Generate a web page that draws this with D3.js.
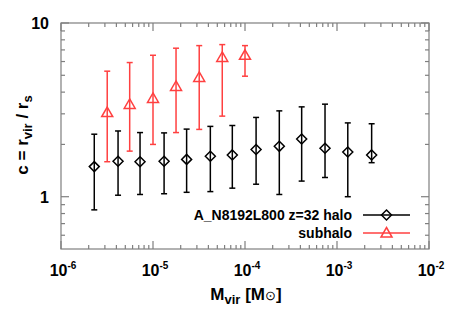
<!DOCTYPE html>
<html>
<head>
<meta charset="utf-8">
<script src="https://cdn.jsdelivr.net/npm/d3@7"></script>
<style>
  body { margin: 0; background: #fff; }
  text { font-family: "Liberation Sans", Arial, sans-serif; font-weight: bold; }
</style>
</head>
<body>
<script>
// variables:
var w = 463
var h = 324
var plotLeft = 61, plotRight = 429, plotTop = 23, plotBottom = 249

// halo data (mass, concentration, error bar low / high)
var haloMass = [2.30e-6, 4.17e-6, 7.23e-6, 1.32e-5, 2.32e-5, 4.20e-5, 7.28e-5, 1.32e-4, 2.36e-4, 4.13e-4, 7.41e-4, 1.31e-3, 2.38e-3]
var haloC = [1.49, 1.60, 1.59, 1.60, 1.64, 1.71, 1.74, 1.87, 1.95, 2.15, 1.90, 1.81, 1.74]
var haloLow = [0.84, 1.02, 1.03, 1.04, 1.06, 1.07, 1.12, 1.18, 1.03, 1.23, 1.29, 1.00, 1.57]
var haloHigh = [2.29, 2.39, 2.34, 2.33, 2.45, 2.54, 2.57, 2.86, 3.12, 3.29, 3.41, 2.66, 2.63]

// subhalo data
var subMass = [3.18e-6, 5.58e-6, 1.0e-5, 1.78e-5, 3.18e-5, 5.66e-5, 1.0e-4]
var subC = [3.05, 3.40, 3.68, 4.31, 4.86, 6.33, 6.52]
var subLow = [1.59, 1.83, 2.00, 2.34, 2.44, 2.91, 4.94]
var subHigh = [5.28, 5.92, 6.52, 7.16, 7.41, 7.51, 7.41]

var xTicks = [1e-6, 1e-5, 1e-4, 1e-3, 1e-2]
var xTickExp = ['-6', '-5', '-4', '-3', '-2']
var yTicks = [1, 10]
var yTickLabels = ['1', '10']
var legendLabels = ['A_N8192L800 z=32 halo', 'subhalo']

var red = '#ff4040'

var svg = d3.select('body')
  .append('svg')
  .attr('width', w)
  .attr('height', h)

var xScale = d3.scaleLog().domain([1e-6, 1e-2]).range([plotLeft, plotRight])
var yScale = d3.scaleLog().domain([0.5, 10]).range([plotBottom, plotTop])

// minor ticks
var xMinor = []
for (var e = -6; e < -2; e++) {
  for (var m = 2; m <= 9; m++) xMinor.push(m * Math.pow(10, e))
}
var yMinor = [0.6, 0.7, 0.8, 0.9, 2, 3, 4, 5, 6, 7, 8, 9]

var axisColor = '#7f7f7f'
var g = svg.append('g').attr('stroke', axisColor).attr('stroke-width', 1.2)

function vTick (x, len) {
  g.append('line').attr('x1', x).attr('x2', x).attr('y1', plotBottom).attr('y2', plotBottom - len)
  g.append('line').attr('x1', x).attr('x2', x).attr('y1', plotTop).attr('y2', plotTop + len)
}
function hTick (y, len) {
  g.append('line').attr('x1', plotLeft).attr('x2', plotLeft + len).attr('y1', y).attr('y2', y)
  g.append('line').attr('x1', plotRight).attr('x2', plotRight - len).attr('y1', y).attr('y2', y)
}
xMinor.forEach(function (d) { vTick(xScale(d), 4) })
xTicks.forEach(function (d) { vTick(xScale(d), 8) })
yMinor.forEach(function (d) { hTick(yScale(d), 4) })
yTicks.forEach(function (d) { hTick(yScale(d), 8) })

g.append('rect')
  .attr('x', plotLeft).attr('y', plotTop)
  .attr('width', plotRight - plotLeft).attr('height', plotBottom - plotTop)
  .attr('fill', 'none')

// tick labels
var xl = svg.selectAll('.xlab')
  .data(xTicks)
  .enter()
  .append('text')
  .attr('class', 'xlab')
  .attr('x', function (d) { return xScale(d) + 2 })
  .attr('y', 276)
  .attr('text-anchor', 'middle')
  .attr('font-size', '16px')
xl.append('tspan').text('10')
xl.append('tspan')
  .attr('dy', -7)
  .attr('font-size', '10px')
  .text(function (d, i) { return xTickExp[i] })

svg.selectAll('.ylab')
  .data(yTicks)
  .enter()
  .append('text')
  .attr('class', 'ylab')
  .attr('x', 49)
  .attr('y', function (d) { return yScale(d) + 6 })
  .attr('text-anchor', 'end')
  .attr('font-size', '16px')
  .text(function (d, i) { return yTickLabels[i] })

// axis titles
var xt = svg.append('text')
  .attr('x', 246)
  .attr('y', 300)
  .attr('text-anchor', 'middle')
  .attr('font-size', '17px')
xt.append('tspan').text('M')
xt.append('tspan').attr('dy', 4).attr('font-size', '13px').text('vir')
xt.append('tspan').attr('dy', -4).text(' [M')
xt.append('tspan').attr('font-size', '13px').attr('font-weight', 'normal').text('\u2299')
xt.append('tspan').text(']')

var yt = svg.append('text')
  .attr('transform', 'translate(28,135) rotate(-90)')
  .attr('text-anchor', 'middle')
  .attr('font-size', '17px')
yt.append('tspan').text('c = r')
yt.append('tspan').attr('dy', 4).attr('font-size', '13px').text('vir')
yt.append('tspan').attr('dy', -4).text(' / r')
yt.append('tspan').attr('dy', 4).attr('font-size', '13px').text('s')

// symbols
function diamond (sel) {
  sel.append('path')
    .attr('d', 'M0,-5L5,0L0,5L-5,0Z')
    .attr('fill', 'none')
    .attr('stroke', '#000')
    .attr('stroke-width', 1.5)
}
function triangle (sel) {
  sel.append('path')
    .attr('d', 'M0,-5.5L5.5,4L-5.5,4Z')
    .attr('fill', 'none')
    .attr('stroke', red)
    .attr('stroke-width', 1.5)
}

function drawSeries (mass, c, low, high, color, symbol) {
  var data = mass.map(function (d, i) { return { m: d, c: c[i], lo: low[i], hi: high[i] } })
  var grp = svg.append('g')
  var eb = grp.selectAll('g.eb')
    .data(data)
    .enter()
    .append('g')
    .attr('stroke', color)
    .attr('stroke-width', 1.5)
  eb.append('line')
    .attr('x1', function (d) { return xScale(d.m) })
    .attr('x2', function (d) { return xScale(d.m) })
    .attr('y1', function (d) { return yScale(d.lo) })
    .attr('y2', function (d) { return yScale(d.hi) })
  eb.append('line')
    .attr('x1', function (d) { return xScale(d.m) - 3 })
    .attr('x2', function (d) { return xScale(d.m) + 3 })
    .attr('y1', function (d) { return yScale(d.lo) })
    .attr('y2', function (d) { return yScale(d.lo) })
  eb.append('line')
    .attr('x1', function (d) { return xScale(d.m) - 3 })
    .attr('x2', function (d) { return xScale(d.m) + 3 })
    .attr('y1', function (d) { return yScale(d.hi) })
    .attr('y2', function (d) { return yScale(d.hi) })
  grp.selectAll('g.pt')
    .data(data)
    .enter()
    .append('g')
    .attr('transform', function (d) { return 'translate(' + xScale(d.m) + ',' + yScale(d.c) + ')' })
    .call(symbol)
}

drawSeries(haloMass, haloC, haloLow, haloHigh, '#000', diamond)
drawSeries(subMass, subC, subLow, subHigh, red, triangle)

// legend
var legendColors = ['#000', red]
var legendSymbols = [diamond, triangle]
legendLabels.forEach(function (lab, i) {
  var y = 215 + i * 18
  svg.append('text')
    .attr('x', 352)
    .attr('y', y + 5)
    .attr('text-anchor', 'end')
    .attr('font-size', '14px')
    .text(lab)
  svg.append('line')
    .attr('x1', 363).attr('x2', 410)
    .attr('y1', y).attr('y2', y)
    .attr('stroke', legendColors[i])
    .attr('stroke-width', 1.5)
  svg.append('g')
    .attr('transform', 'translate(386.5,' + y + ')')
    .call(legendSymbols[i])
})
</script>
</body>
</html>
